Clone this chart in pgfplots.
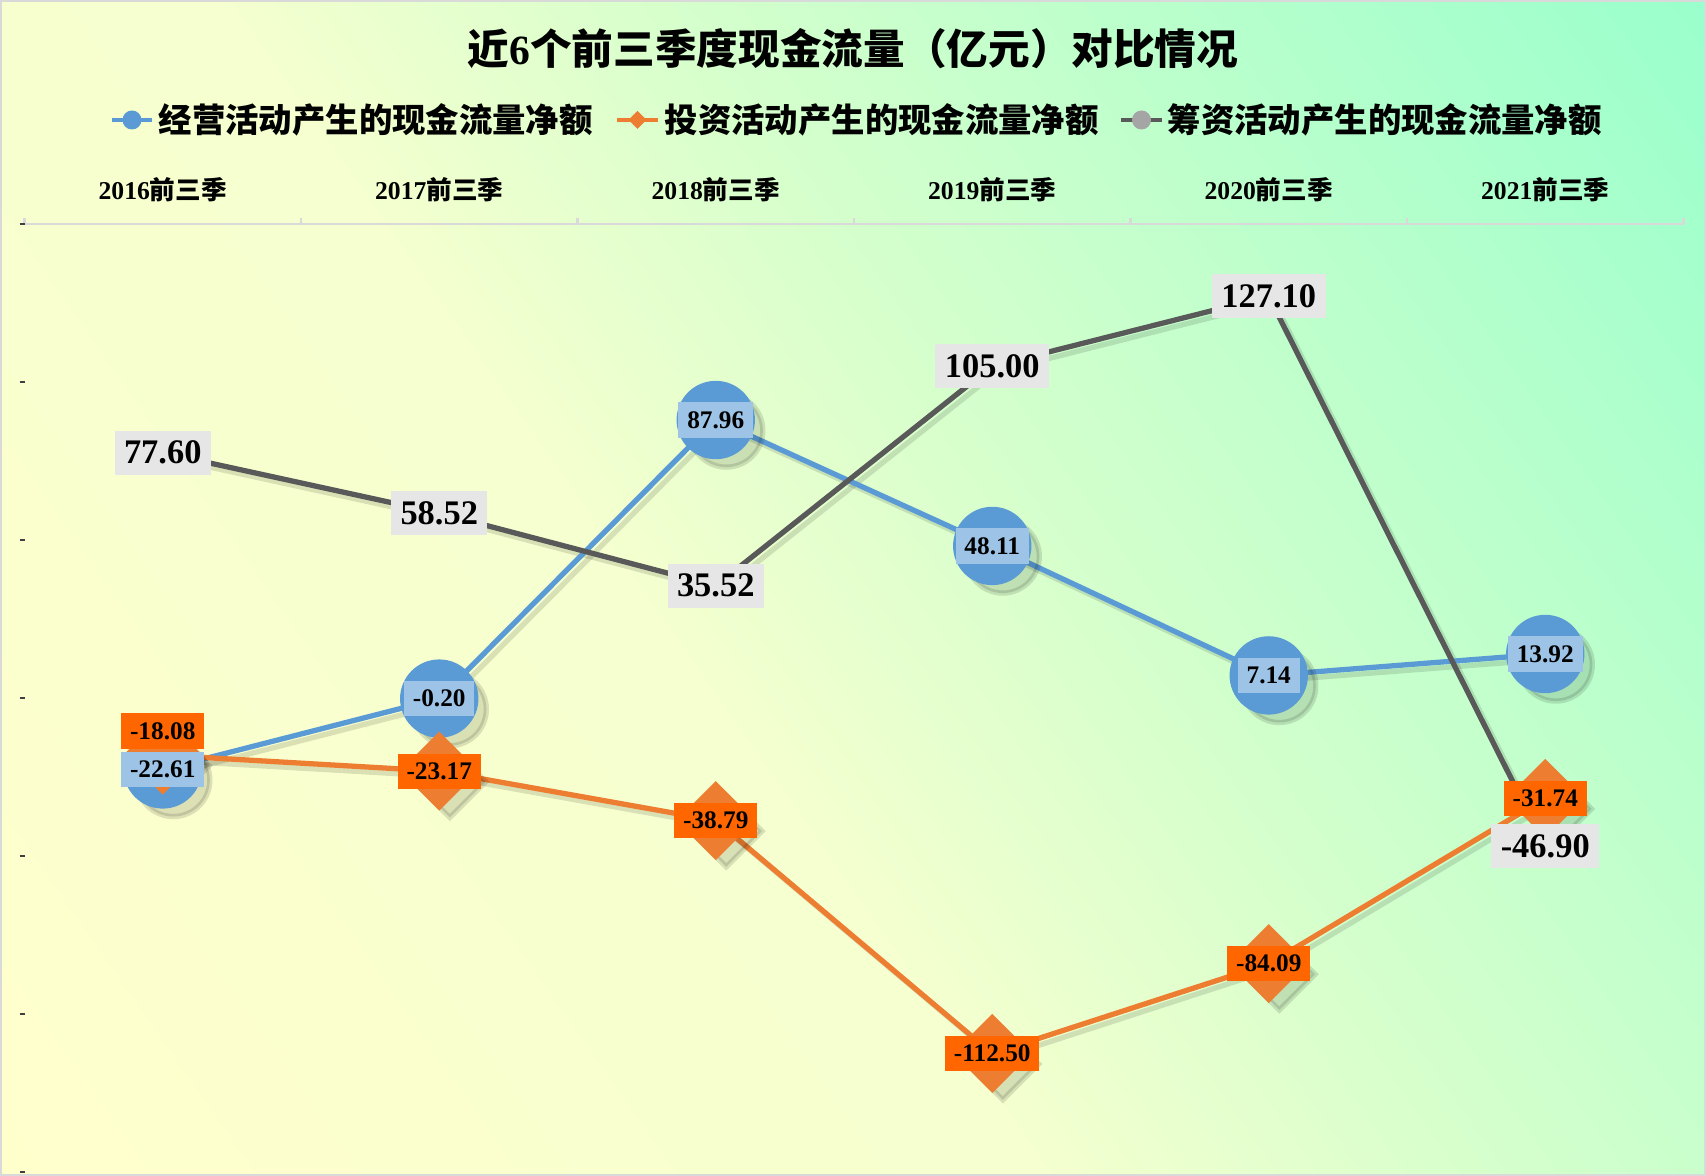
\documentclass[border=0pt]{standalone}
\usepackage{fontspec}
\setmainfont{Liberation Serif}
\newfontfamily\cjk{Noto Sans CJK SC}
\usepackage{pgfplots}
\pgfplotsset{compat=1.18}
\usepackage{pgfplotstable}
\definecolor{cblue}{HTML}{5B9BD5}
\definecolor{cbluelab}{HTML}{9DC3E6}
\definecolor{corange}{HTML}{ED7D31}
\definecolor{corangelab}{HTML}{FF6600}
\definecolor{cgray}{HTML}{595959}
\definecolor{cgraylab}{HTML}{E7E6E6}
\definecolor{cgraymark}{HTML}{A5A5A5}
\definecolor{bg0}{HTML}{FFFFCC}
\definecolor{bg1}{HTML}{F5FFCF}
\definecolor{bg2}{HTML}{D6FFCC}
\definecolor{bg3}{HTML}{99FFCC}
\pgfdeclarehorizontalshading{bgshade}{100bp}{color(0bp)=(bg0); color(15bp)=(bg0); color(44bp)=(bg1); color(56bp)=(bg2); color(85bp)=(bg3); color(100bp)=(bg3)}

\pgfplotstableread{
x y label
0 -22.61 -22.61
1 -0.20 -0.20
2 87.96 87.96
3 48.11 48.11
4 7.14 7.14
5 13.92 13.92
}\opcash
\pgfplotstableread{
x y label dy
0 -18.08 -18.08 0.24
1 -23.17 -23.17 0
2 -38.79 -38.79 0
3 -112.50 -112.50 0
4 -84.09 -84.09 0
5 -31.74 -31.74 0
}\invcash
\pgfplotstableread{
x y label
0 77.60 77.60
1 58.52 58.52
2 35.52 35.52
3 105.00 105.00
4 127.10 127.10
5 -46.90 -46.90
}\fincash

\begin{document}
\begin{tikzpicture}
\useasboundingbox (0,0) rectangle (17.06,11.76);
\shade[shading=bgshade, shading angle=35] (0,0) rectangle (17.06,11.76);
\draw[draw=black!15, line width=0.2mm] (0.01,0.01) rectangle (17.05,11.75);

% title
\node[font=\fontsize{11.85}{14}\selectfont\bfseries] at (8.53,11.27)
  {{\cjk 近}6{\cjk 个前三季度现金流量（亿元）对比情况}};

% legend
\draw[cblue, line width=1.4pt] (1.12,10.56) -- (1.52,10.56);
\fill[cblue] (1.32,10.56) circle (0.95mm);
\node[anchor=west, inner sep=0pt, font=\fontsize{9.5}{11}\selectfont\bfseries\cjk] at (1.58,10.56) {经营活动产生的现金流量净额};
\draw[corange, line width=1.4pt] (6.17,10.56) -- (6.58,10.56);
\fill[corange] (6.375,10.47) -- (6.465,10.56) -- (6.375,10.65) -- (6.285,10.56) -- cycle;
\node[anchor=west, inner sep=0pt, font=\fontsize{9.5}{11}\selectfont\bfseries\cjk] at (6.64,10.56) {投资活动产生的现金流量净额};
\draw[cgray, line width=1.4pt] (11.21,10.56) -- (11.62,10.56);
\fill[cgraymark] (11.415,10.56) circle (0.95mm);
\node[anchor=west, inner sep=0pt, font=\fontsize{9.5}{11}\selectfont\bfseries\cjk] at (11.67,10.56) {筹资活动产生的现金流量净额};

\begin{axis}[
  at={(2.45mm,0.4mm)}, anchor=south west,
  scale only axis, width=16.59cm, height=9.48cm,
  xmin=-0.5, xmax=5.5, ymin=-150, ymax=150,
  axis x line*=top, axis y line*=left,
  x axis line style={draw=black!15, line width=0.7pt},
  y axis line style={draw=none},
  xtick={0,...,5},
  xticklabels={2016{\cjk 前三季},2017{\cjk 前三季},2018{\cjk 前三季},2019{\cjk 前三季},2020{\cjk 前三季},2021{\cjk 前三季}},
  major x tick style={draw=none},
  minor xtick={-0.5,0.5,...,5.5},
  minor x tick style={draw=black!15, line width=0.7pt},
  minor tick length=0.6mm,
  ytick={-150,-100,...,150}, yticklabels={},
  ytick style={draw=black!75, line width=0.3pt},
  major tick length=0.5mm,
  tick align=outside,
  xticklabel style={font=\fontsize{7.3}{9}\selectfont\bfseries, anchor=center, yshift=0.29cm},
  clip=false,
]
% shadows
\addplot[forget plot, draw=black, opacity=0.12, line width=1.5pt, transform canvas={xshift=1.5pt,yshift=-1.5pt}, mark=*, mark size=10.4pt, mark options={fill=black, draw=none}] table[x=x,y=y] {\opcash};
\addplot[forget plot, draw=black, opacity=0.12, line width=1.5pt, transform canvas={xshift=1.5pt,yshift=-1.5pt}, mark=square*, mark size=7.2pt, mark options={fill=black, draw=none, rotate=45}] table[x=x,y=y] {\invcash};
\addplot[forget plot, draw=black, opacity=0.12, line width=1.5pt, transform canvas={xshift=1.5pt,yshift=-1.5pt}, mark=none] table[x=x,y=y] {\fincash};
% lines
\addplot[cblue, line width=1.5pt, mark=*, mark size=10.4pt, mark options={fill=cblue, draw=none}] table[x=x,y=y] {\opcash};
\addplot[corange, line width=1.5pt, mark=square*, mark size=7.2pt, mark options={fill=corange, draw=none, rotate=45}] table[x=x,y=y] {\invcash};
\addplot[cgray, line width=1.5pt, mark=none] table[x=x,y=y] {\fincash};
% labels
\addplot[draw=none, mark=none, point meta=explicit symbolic, nodes near coords,
  every node near coord/.append style={anchor=center, fill=cbluelab, text=black, font=\fontsize{7.2}{8}\selectfont\bfseries, inner xsep=2.5pt, inner ysep=2.6pt}]
  table[x=x,y=y,meta=label] {\opcash};
\addplot[draw=none, mark=none, point meta=explicit symbolic, nodes near coords,
  visualization depends on={\thisrow{dy}\as\dy},
  every node near coord/.append style={anchor=center, yshift=\dy cm, fill=corangelab, text=black, font=\fontsize{7.2}{8}\selectfont\bfseries, inner xsep=2.5pt, inner ysep=2.6pt}]
  table[x=x,y=y,meta=label] {\invcash};
\addplot[draw=none, mark=none, point meta=explicit symbolic, nodes near coords,
  every node near coord/.append style={anchor=center, fill=cgraylab, text=black, font=\fontsize{9.8}{11}\selectfont\bfseries, inner xsep=2.7pt, inner ysep=2.9pt}]
  table[x=x,y=y,meta=label] {\fincash};
\end{axis}
\end{tikzpicture}
\end{document}
